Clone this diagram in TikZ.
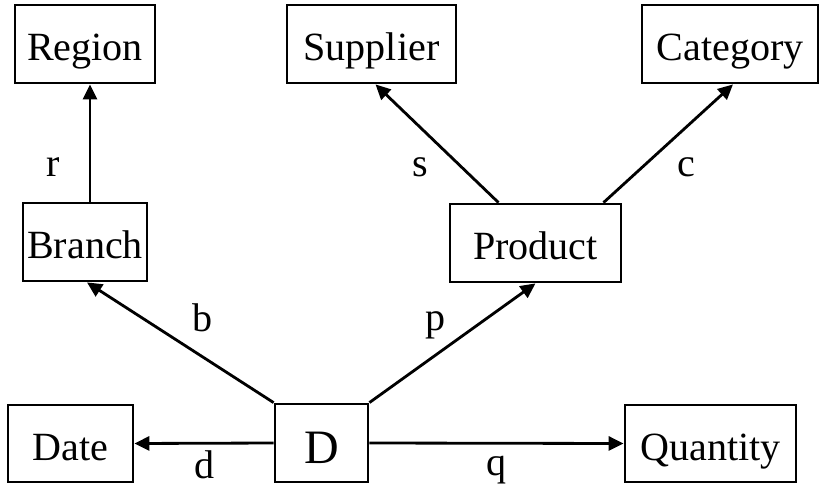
\documentclass[tikz,border=0pt]{standalone}
\usepackage{fontspec}
\setmainfont{Liberation Serif}
\usepackage{tikz}
\usetikzlibrary{arrows.meta,positioning}
\tikzset{
  erbox/.style={draw=black, line width=1.6pt, inner sep=0pt, minimum height=1.56cm,
    text height=20pt, text depth=0.9pt,
    align=center, font=\fontsize{22.8}{27}\selectfont},
  erarrow/.style={-{Triangle[length=0.3cm, width=0.28cm]}, line width=1.6pt, draw=black},
  erlabel/.style={inner sep=0pt, font=\fontsize{22.8}{27}\selectfont}
}
\begin{document}
\begin{tikzpicture}[x=0.02cm, y=-0.02cm]
  \useasboundingbox (0,0) rectangle (821,493);
  % dimension tables
  \node[erbox, minimum width=2.8cm] (region) at (85,44) {Region};
  \node[erbox, minimum width=3.38cm] (supplier) at (371.5,44) {Supplier};
  \node[erbox, minimum width=3.52cm] (category) at (730,44) {Category};
  \node[erbox, minimum width=2.48cm] (branch) at (85,242) {Branch};
  \node[erbox, minimum width=3.42cm] (product) at (535.5,243) {Product};
  \node[erbox, minimum width=2.5cm, minimum height=1.54cm] (date) at (70.5,443.5) {Date};
  \node[erbox, minimum width=1.86cm, text height=23pt, text depth=0.2pt,
    font=\fontsize{27.3}{32}\selectfont] (d) at (321.5,443) {D};
  \node[erbox, minimum width=3.42cm, minimum height=1.54cm] (quantity) at (710.5,443.5) {Quantity};
  % connectors
  \draw[erarrow] ([xshift=0.1cm]branch.north) -- ([xshift=0.1cm]region.south);
  \draw[erarrow] ([xshift=-0.74cm]product.north) -- ([xshift=0.08cm]supplier.south);
  \draw[erarrow] ([xshift=1.36cm]product.north) -- ([xshift=0.06cm]category.south);
  \draw[erarrow] (d.north west) -- ([xshift=0.04cm]branch.south);
  \draw[erarrow] (d.north east) -- (product.south);
  \draw[erarrow] (d.west) -- (date.east);
  \draw[erarrow] (d.east) -- (quantity.west);
  % labels
  \node[erlabel] (lblr) at (53,167) {r};
  \node[erlabel] (lbls) at (420,167) {s};
  \node[erlabel] (lblc) at (686,167) {c};
  \node[erlabel] (lblb) at (203,318) {b};
  \node[erlabel] (lblp) at (436,325) {p};
  \node[erlabel] (lbld) at (205,465) {d};
  \node[erlabel] (lblq) at (497,470) {q};
\end{tikzpicture}
\end{document}
